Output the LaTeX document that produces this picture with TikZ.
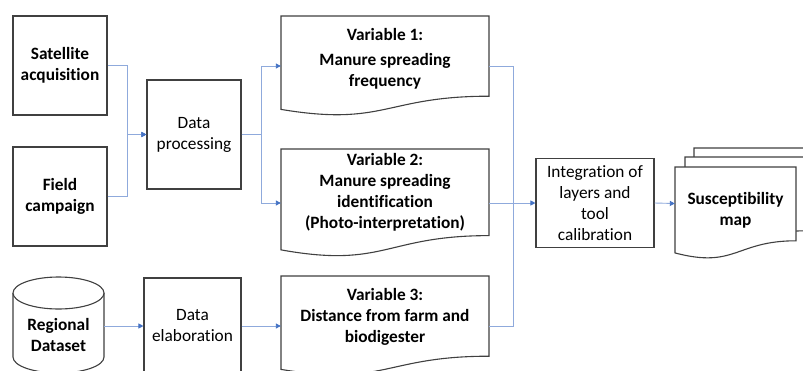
\documentclass[tikz,border=0pt]{standalone}
\usepackage{fontspec}
\setmainfont{Carlito}[Ligatures={NoCommon,NoContextual}]
\usetikzlibrary{arrows.meta,calc}
\definecolor{edge}{RGB}{64,64,64}
\definecolor{wireblue}{RGB}{143,170,220}
\definecolor{tipblue}{RGB}{68,114,196}
\newcommand\mydoc[4]{(#1,#2) -- (#3,#2) -- (#3,{#2+0.802*(#4-#2)}) .. controls ({(#1+#3)/2},{#2+0.802*(#4-#2)}) and ({(#1+#3)/2},{#2+1.1075*(#4-#2)}) .. (#1,{#2+0.934*(#4-#2)}) -- cycle}
\begin{document}
\begin{tikzpicture}[x=1pt,y=-1pt,
  every node/.style={font=\fontsize{17.3}{21}\selectfont, align=center, inner sep=0pt},
  bold/.style={font=\fontsize{17.3}{21}\selectfont\bfseries},
  box/.style={draw=edge, line width=1.1pt, fill=white},
  frame/.style={draw=none},
  shapeline/.style={draw=edge, line width=1.1pt, fill=white},
  wire/.style={draw=wireblue, line width=0.9pt},
  conn/.style={wire, -{Triangle[length=5pt,width=5pt,color=tipblue]}}]
\useasboundingbox (0,0) rectangle (803,370);
\fill[white] (0,0) rectangle (803,370);
\clip (0,0) rectangle (803,370);

% inputs
\node[box, bold, minimum width=94pt, minimum height=99pt] (sat) at (60,65.5) {Satellite\\acquisition};
\node[box, bold, minimum width=94pt, minimum height=99pt] (field) at (60,196.5) {Field\\campaign};
\node[box, minimum width=94pt, minimum height=109pt] (dp) at (194,134.5) {Data\\processing};

% cylinder
\node[frame, minimum width=91pt, minimum height=94pt] (cyl) at (58.5,326) {};
\draw[shapeline] (13,293) -- (13,357) .. controls (13,365.8) and (33.4,373) .. (58.5,373) .. controls (83.6,373) and (104,365.8) .. (104,357) -- (104,293);
\draw[shapeline] (58.5,293) ellipse [x radius=45.5, y radius=16];
\node[bold] (cylt) at (58.5,334.5) {Regional\\Dataset};

\node[box, minimum width=97pt, minimum height=96pt] (de) at (192.5,326) {Data\\elaboration};

% variables
\node[frame, minimum width=208pt, minimum height=100pt] (v1) at (385,66) {};
\draw[shapeline] \mydoc{281}{16}{489}{116};
\node[bold] (v1t) at (385,58.5) {Variable 1:\\[4pt]Manure spreading\\frequency};

\node[frame, minimum width=208pt, minimum height=108pt] (v2) at (385,203) {};
\draw[shapeline] \mydoc{281}{149}{489}{257};
\node[bold] (v2t) at (385,192.5) {Variable 2:\\Manure spreading\\identification\\(Photo-interpretation)};

\node[frame, minimum width=208pt, minimum height=100pt] (v3) at (385,326) {};
\draw[shapeline] \mydoc{281}{276}{489}{376};
\node[bold] (v3t) at (385,316.5) {Variable 3:\\Distance from farm and\\biodigester};

\node[box, minimum width=118pt, minimum height=89pt] (integ) at (595,203) {Integration of\\layers and\\tool\\calibration};

% multidocument
\node[frame, minimum width=140pt, minimum height=111pt] (sm) at (745,203.5) {};
\draw[shapeline] \mydoc{694}{148}{815}{240};
\draw[shapeline] \mydoc{685}{157}{806}{249};
\draw[shapeline] \mydoc{675}{167}{796}{259};
\node[bold] (smt) at (735.5,210.5) {Susceptibility\\map};

% connectors
\draw[conn] (sat.east) -- ++(20,0) |- (dp.west);
\draw[conn] (field.east) -- ++(20,0) |- (dp.west);
\draw[conn] (dp.east) -- ++(20,0) |- (v1.west);
\draw[conn] (dp.east) -- ++(20,0) |- (v2.west);
\draw[conn] (cyl.east) -- (de.west);
\draw[conn] (de.east) -- (v3.west);
\draw[wire] (v1.east) -- ++(24,0) |- (v3.east);
\draw[conn] (v2.east) -- (integ.west);
\draw[conn] (integ.east) -- (sm.west);
\end{tikzpicture}
\end{document}
